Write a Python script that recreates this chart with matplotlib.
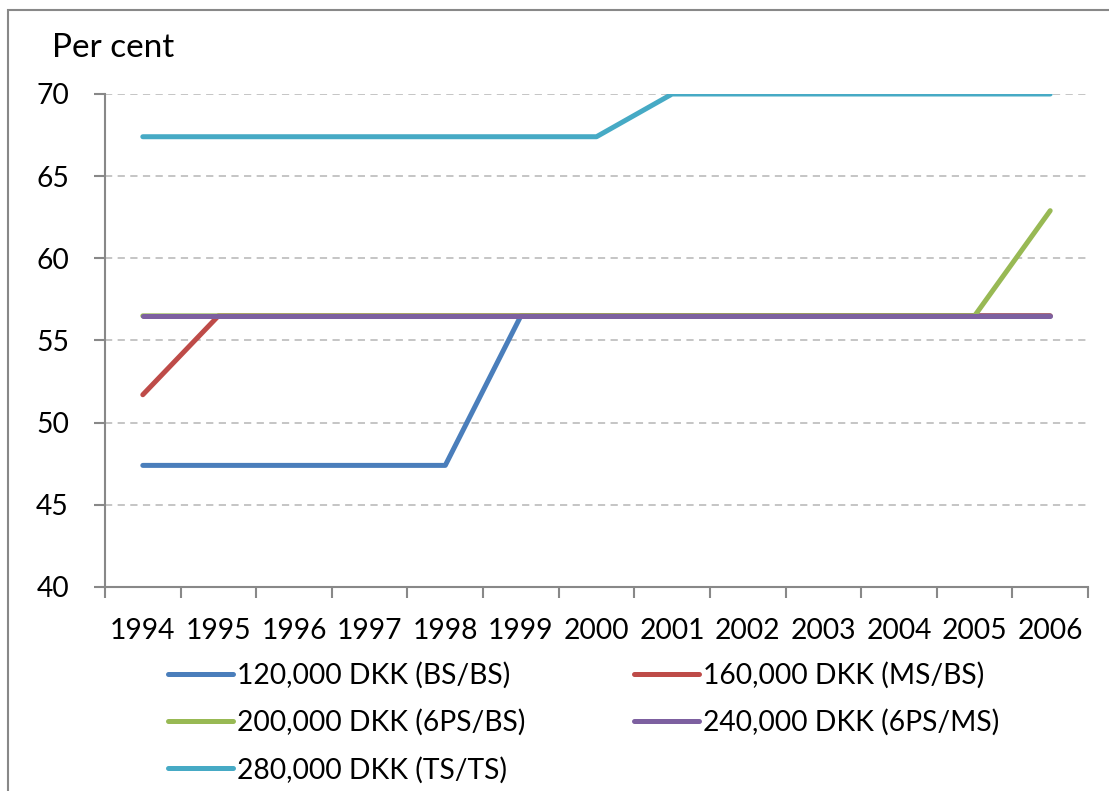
import numpy as np
import matplotlib.pyplot as plt
from matplotlib.patches import Rectangle

years = ['1994', '1995', '1996', '1997', '1998', '1999', '2000',
         '2001', '2002', '2003', '2004', '2005', '2006']

bs_bs = [47.4, 47.4, 47.4, 47.4, 47.4, 56.5, 56.5, 56.5, 56.5, 56.5, 56.5, 56.5, 56.5]
ms_bs = [51.7, 56.5, 56.5, 56.5, 56.5, 56.5, 56.5, 56.5, 56.5, 56.5, 56.5, 56.5, 56.5]
ps6_bs = [56.5, 56.5, 56.5, 56.5, 56.5, 56.5, 56.5, 56.5, 56.5, 56.5, 56.5, 56.5, 62.9]
ps6_ms = [56.5, 56.5, 56.5, 56.5, 56.5, 56.5, 56.5, 56.5, 56.5, 56.5, 56.5, 56.5, 56.5]
ts_ts = [67.4, 67.4, 67.4, 67.4, 67.4, 67.4, 67.4, 70.0, 70.0, 70.0, 70.0, 70.0, 70.0]

series = [
    ('120,000 DKK (BS/BS)', bs_bs, '#4A7EBB'),
    ('160,000 DKK (MS/BS)', ms_bs, '#BE4B48'),
    ('200,000 DKK (6PS/BS)', ps6_bs, '#98B954'),
    ('240,000 DKK (6PS/MS)', ps6_ms, '#7D60A0'),
    ('280,000 DKK (TS/TS)', ts_ts, '#46AAC5'),
]

plt.rcParams['font.family'] = ['Lato', 'DejaVu Sans']
fs = 20.3

W, H = 1109, 791
fig = plt.figure(figsize=(W / 100, H / 100), dpi=100)
ax = fig.add_axes([105 / W, 1 - 587 / H, (1088 - 105) / W, (587 - 94) / H])

x = np.arange(len(years))
lines = []
for label, vals, col in series:
    ln, = ax.plot(x, vals, color=col, lw=3.6, solid_capstyle='round',
                  solid_joinstyle='round', label=label)
    lines.append(ln)

ax.set_xlim(-0.5, len(years) - 0.5)
ax.set_ylim(40, 70)
ax.set_yticks(np.arange(40, 71, 5))
ax.set_xticks(x)
ax.set_xticklabels(years)
ax.set_xticks(np.arange(-0.5, len(years)), minor=True)
ax.tick_params(axis='x', which='major', length=0, labelsize=fs, pad=22)
ax.tick_params(axis='x', which='minor', length=8, width=1.5, color='#888888')
ax.tick_params(axis='y', length=8, width=1.5, color='#888888', labelsize=fs, pad=18)

for s in ['top', 'right']:
    ax.spines[s].set_visible(False)
for s in ['left', 'bottom']:
    ax.spines[s].set_color('#888888')
    ax.spines[s].set_linewidth(1.5)

for v in range(45, 71, 5):
    ax.axhline(v, color='#C0C0C0', lw=1.3, ls=(0, (4, 3)), zorder=0)

fig.text(52 / W, 1 - 48 / H, 'Per cent', fontsize=24, va='center', ha='left')

# legend fills column by column, so order entries to read row-wise
order = [0, 2, 4, 1, 3]
fig.legend([lines[i] for i in order], [series[i][0] for i in order],
           loc='upper left', bbox_to_anchor=(154 / W, 1 - 648 / H), ncol=2,
           frameon=False, fontsize=fs, handlelength=2.3, handletextpad=0.15,
           columnspacing=3.85, labelspacing=0.72, borderpad=0)

fig.patches.append(Rectangle((8 / W, -0.1), 1.2, 1 - 10 / H + 0.1,
                             transform=fig.transFigure, fill=False,
                             edgecolor='#888888', lw=1.5))

fig.savefig('out.png', dpi=100)
